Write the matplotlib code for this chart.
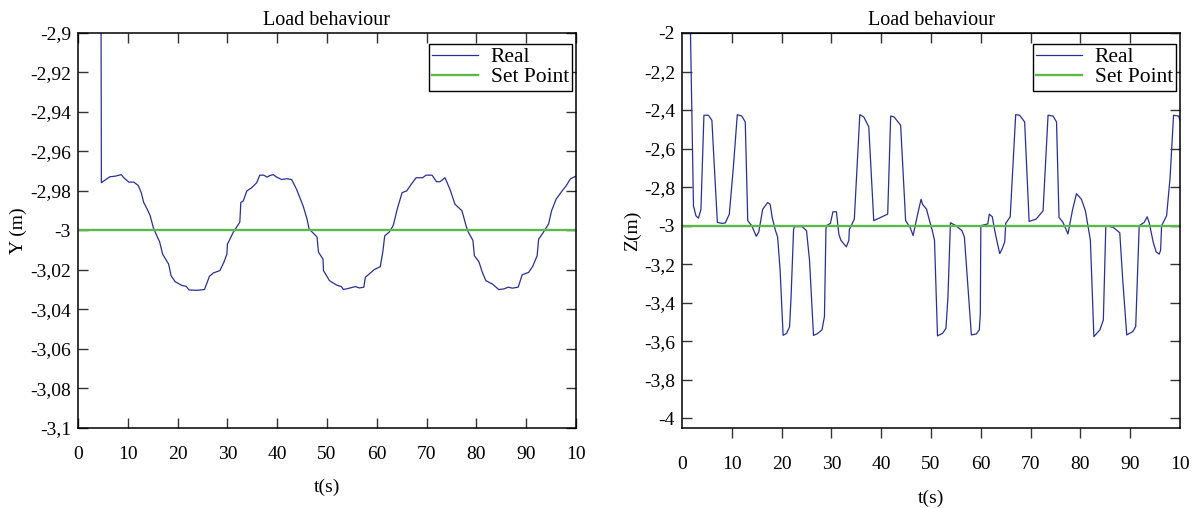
import matplotlib
matplotlib.use('Agg')
import matplotlib.pyplot as plt
from matplotlib.ticker import FuncFormatter
import numpy as np

plt.rcParams['font.family'] = ['Liberation Serif', 'DejaVu Serif']
plt.rcParams['font.size'] = 14

# Y position of the load (left panel)
t_y = [4.4, 4.7, 6.4, 7.5, 8.7, 9.2, 10.2, 11.2, 12.1, 12.7, 13.2, 13.9, 14.5, 15.1,
       15.5, 16.4, 17.0, 18.2, 18.7, 19.5, 20.9, 21.7, 22.3, 23.9, 25.4, 26.4, 27.2,
       28.5, 29.3, 29.9, 30.0, 31.2, 32.5, 32.7, 33.2, 33.9, 34.9, 35.9, 36.5, 37.3,
       38.0, 38.5, 39.2, 39.9, 40.9, 41.9, 42.9, 43.9, 45.2, 46.0, 46.4, 48.0, 48.3,
       49.2, 49.3, 50.5, 51.9, 52.9, 53.3, 54.5, 55.7, 56.5, 57.4, 57.7, 58.5, 59.5,
       60.7, 61.2, 61.6, 62.5, 63.3, 64.2, 65.1, 66.0, 66.9, 67.9, 69.2, 69.9, 71.1,
       72.0, 72.7, 73.7, 74.7, 75.7, 77.1, 78.2, 79.3, 79.6, 80.5, 81.2, 81.9, 83.2,
       84.5, 85.5, 86.4, 87.2, 88.4, 89.2, 90.5, 91.3, 92.2, 92.5, 93.3, 94.5, 95.1,
       96.0, 97.2, 98.0, 98.9, 100.0]
y_real = [-2.6, -2.9758, -2.9728, -2.9725, -2.9717, -2.9733, -2.9755, -2.9755, -2.9772,
          -2.9808, -2.9858, -2.9892, -2.9925, -2.9983, -3.0008, -3.0058, -3.012, -3.017,
          -3.0229, -3.0259, -3.0279, -3.0282, -3.0301, -3.0303, -3.0299, -3.0232, -3.0215,
          -3.0203, -3.0161, -3.012, -3.007, -3.0008, -2.9958, -2.9858, -2.985, -2.98,
          -2.9783, -2.9758, -2.972, -2.972, -2.973, -2.9722, -2.9717, -2.973, -2.9742,
          -2.9738, -2.9742, -2.9792, -2.9875, -2.9942, -2.9992, -3.0033, -3.011, -3.0145,
          -3.0203, -3.0254, -3.0276, -3.0284, -3.0299, -3.0292, -3.0284, -3.0291, -3.0287,
          -3.0237, -3.022, -3.0198, -3.0183, -3.011, -3.0027, -3.0008, -2.9975, -2.9883,
          -2.9808, -2.98, -2.9767, -2.9733, -2.9733, -2.972, -2.972, -2.9753, -2.9753,
          -2.9733, -2.9792, -2.9867, -2.99, -3.0, -3.005, -3.0128, -3.0158, -3.0212,
          -3.0254, -3.0271, -3.0299, -3.0296, -3.0287, -3.0292, -3.0287, -3.0224, -3.0212,
          -3.0182, -3.0128, -3.0044, -3.0015, -2.9967, -2.99, -2.9842, -2.98, -2.9775,
          -2.9738, -2.9725]

# Z position of the load (right panel)
t_z = [1.6, 2.3, 2.8, 3.3, 3.8, 4.4, 5.3, 6.0, 6.4, 7.1, 8.0, 8.7, 9.5, 10.3, 11.1, 12.0,
       12.7, 13.2, 14.0, 14.9, 15.4, 16.2, 17.2, 17.7, 18.1, 18.7, 19.2, 19.7, 20.3, 21.0,
       21.6, 21.9, 22.4, 22.6, 24.1, 25.0, 25.6, 26.4, 27.1, 28.1, 28.6, 28.9, 29.0, 29.8,
       30.3, 31.0, 31.5, 31.9, 33.0, 33.5, 33.6, 34.6, 35.7, 36.5, 37.5, 38.5, 41.3, 41.9,
       42.6, 43.9, 44.9, 45.8, 46.4, 47.2, 48.0, 48.3, 49.1, 49.7, 50.3, 50.7, 51.3, 52.3,
       53.0, 53.4, 53.9, 55.0, 56.2, 56.7, 57.4, 58.1, 59.1, 59.7, 59.9, 60.0, 61.4, 61.7,
       62.3, 62.8, 63.2, 63.8, 64.3, 64.8, 65.0, 65.9, 67.0, 67.8, 68.8, 69.7, 71.1, 72.5,
       73.5, 74.5, 75.2, 75.7, 76.5, 77.5, 78.4, 79.2, 80.2, 81.0, 81.5, 82.0, 82.7, 83.9,
       84.6, 85.1, 86.6, 87.9, 88.5, 89.3, 90.5, 91.1, 91.8, 92.8, 93.4, 93.8, 94.6, 95.2,
       95.8, 96.1, 96.3, 97.3, 98.0, 98.7, 99.7, 100.0]
z_real = [-1.85, -2.897, -2.949, -2.961, -2.915, -2.427, -2.427, -2.453, -2.65, -2.983,
          -2.988, -2.986, -2.94, -2.70, -2.424, -2.431, -2.462, -2.974, -3.0, -3.055,
          -3.034, -2.915, -2.88, -2.889, -2.957, -3.02, -3.059, -3.231, -3.569, -3.559,
          -3.524, -3.369, -3.02, -3.005, -3.005, -3.026, -3.179, -3.569, -3.562, -3.541,
          -3.472, -3.02, -3.0, -2.988, -2.928, -2.928, -3.045, -3.076, -3.11, -3.076,
          -3.02, -2.966, -2.424, -2.436, -2.487, -2.974, -2.94, -2.431, -2.436, -2.479,
          -2.974, -3.009, -3.051, -2.954, -2.863, -2.889, -2.915, -2.974, -3.03, -3.076,
          -3.572, -3.559, -3.533, -3.369, -2.985, -3.0, -3.026, -3.059, -3.317, -3.567,
          -3.562, -3.541, -3.455, -3.0, -2.991, -2.94, -2.954, -3.026, -3.076, -3.145,
          -3.119, -3.084, -2.988, -2.954, -2.424, -2.427, -2.462, -2.978, -2.966, -2.923,
          -2.427, -2.431, -2.462, -2.957, -2.983, -3.043, -2.92, -2.834, -2.863, -2.923,
          -3.0, -3.076, -3.576, -3.541, -3.49, -3.0, -3.009, -3.037, -3.283, -3.567,
          -3.55, -3.524, -3.0, -2.983, -2.954, -2.983, -3.084, -3.136, -3.148, -3.128,
          -3.0, -2.949, -2.752, -2.427, -2.431, -2.453]

set_point = -3.0
x_ticks = [0, 10, 20, 30, 40, 50, 60, 70, 80, 90, 100]
x_labels = ['0', '10', '20', '30', '40', '50', '60', '70', '80', '90', '10']
y_ticks_left = [-2.9, -2.92, -2.94, -2.96, -2.98, -3.0, -3.02, -3.04, -3.06, -3.08, -3.1]
y_ticks_right = [-2.0, -2.2, -2.4, -2.6, -2.8, -3.0, -3.2, -3.4, -3.6, -3.8, -4.0]

blue = '#27309a'
green = '#5cb84a'


def comma(v, pos=None):
    s = f"{v:.2f}".rstrip('0').rstrip('.')
    return s.replace('.', ',')


fig = plt.figure(figsize=(11.94, 5.08), dpi=100)
ax1 = fig.add_axes([0.0653, 0.1575, 0.4171, 0.7776])
ax2 = fig.add_axes([0.5712, 0.1575, 0.4171, 0.7776])

for ax, t, v, yt, ylim, ylab in [(ax1, t_y, y_real, y_ticks_left, (-3.1, -2.9), 'Y (m)'),
                                 (ax2, t_z, z_real, y_ticks_right, (-4.05, -2.0), 'Z(m)')]:
    ax.plot(t, v, color=blue, lw=0.9, label='Real')
    ax.axhline(set_point, color=green, lw=1.7, label='Set Point')
    ax.set_xlim(0, 100)
    ax.set_ylim(*ylim)
    ax.set_yticks(yt)
    ax.yaxis.set_major_formatter(FuncFormatter(comma))
    ax.set_xticks(x_ticks)
    ax.set_xticklabels(x_labels)
    ax.set_title('Load behaviour', pad=6, fontsize=14.5)
    ax.set_ylabel(ylab, labelpad=2)
    ax.tick_params(axis='y', direction='in', right=True, length=7, width=1, pad=5,
                   color='#333333')
    for s in ax.spines.values():
        s.set_linewidth(1.1)
    leg = ax.legend(loc='upper right', bbox_to_anchor=(0.992, 0.972), borderaxespad=0,
                    fancybox=False, framealpha=1, edgecolor='black', handlelength=2.1,
                    borderpad=0.15, labelspacing=0.0, handletextpad=0.6, fontsize=15.5)
    leg.get_frame().set_linewidth(1.0)

# left panel: ticks inside on every side
ax1.tick_params(axis='x', direction='in', top=True, length=7, width=1, pad=13,
                color='#333333')
ax1.set_xlabel('t(s)', labelpad=11)

# right panel: bottom ticks outside, top ticks inside
ax2.tick_params(axis='x', direction='out', length=7, width=1, pad=13, color='#333333')
ticks = ax2.xaxis.get_major_ticks()
ticks[0].tick1line.set_visible(False)
ticks[-1].tick1line.set_visible(False)
top = ax2.secondary_xaxis('top')
top.set_xticks(x_ticks[1:-1])
top.tick_params(direction='in', length=7, width=1, labeltop=False, color='#333333')
ax2.set_xlabel('t(s)', labelpad=12)

fig.savefig('out.png', dpi=100)
